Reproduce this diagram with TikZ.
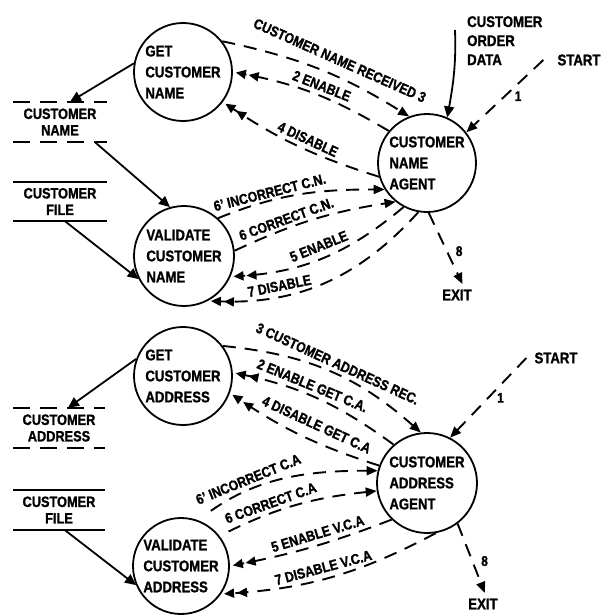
\documentclass[tikz,border=0pt]{standalone}
\usepackage{fontspec}
\setmainfont{Liberation Sans}[FakeStretch=0.85, BoldFeatures={FakeBold=1.2}]
\usetikzlibrary{arrows.meta}
\begin{document}
\begin{tikzpicture}[x=1pt,y=-1pt,
  proc/.style={circle, draw, line width=1.8pt, minimum size=98pt, inner sep=0pt, align=left,
    font=\bfseries\fontsize{15.5}{21}\selectfont},
  dsh/.style={line width=1.9pt, dash pattern=on 13pt off 9pt},
  stdash/.style={line width=1.8pt, dash pattern=on 17pt off 10pt},
  stsolid/.style={line width=1.8pt},
  sgl/.style={-{Triangle[length=11pt,width=9pt]}},
  dbl/.style={-{Triangle[length=10pt,width=9pt,sep=3pt]Triangle[length=10pt,width=9pt,sep=3pt]}},
  lab/.style={font=\bfseries\fontsize{14.5}{16}\selectfont, sloped, inner sep=1pt, anchor=south},
  num/.style={font=\bfseries\fontsize{14}{16}\selectfont, inner sep=1pt},
  store/.style={minimum width=94pt, inner sep=0pt, align=center,
    font=\bfseries\fontsize{15}{16.5}\selectfont},
  txt/.style={font=\bfseries\fontsize{15.5}{19}\selectfont, inner sep=0pt, align=left},
  solidarrow/.style={line width=1.8pt, -{Triangle[length=11pt,width=10pt]}}
]
\useasboundingbox (0,0) rectangle (616,614);

% ---------- upper diagram ----------
\node[proc] (gcn) at (183,72) {GET\\CUSTOMER\\NAME};
\node[proc, minimum size=100pt] (vcn) at (184,256) {VALIDATE\\CUSTOMER\\NAME};
\node[proc] (acn) at (427,163) {CUSTOMER\\NAME\\AGENT};

\node[store, minimum height=40pt] (scn) at (60,122) {CUSTOMER\\NAME};
\draw[stdash] (scn.north west) -- (scn.north east);
\draw[stdash] (scn.south west) -- (scn.south east);
\node[store, minimum height=39pt] (sf1) at (60,201.5) {CUSTOMER\\FILE};
\draw[stsolid] (sf1.north west) -- (sf1.north east);
\draw[stsolid] (sf1.south west) -- (sf1.south east);

\node[txt, anchor=north west] (cod) at (467,16) {CUSTOMER\\ORDER\\DATA};
\node[txt] (st1) at (579,60) {START};
\node[txt] (ex1) at (457,295) {EXIT};

\draw[solidarrow] (gcn.170) -- ([xshift=10pt]scn.north);
\draw[solidarrow] ([xshift=35pt]scn.south) -- (vcn.106);
\draw[solidarrow] ([xshift=5pt]sf1.south) -- (vcn.207);
\draw[solidarrow] ([xshift=-12pt,yshift=-14pt]cod.north west) to[out=-88,in=80] (acn.66);

\draw[dsh,sgl] ([xshift=-14pt]st1.west) -- node[num, pos=0.5, right=8pt]{1} (acn.38);
\draw[dsh,sgl,shorten >=6pt] (acn.-88) -- node[num, pos=0.5, right=7pt]{8} ([xshift=8pt]ex1.north);

\draw[dsh,sgl] (gcn.38) to[bend left=10] node[lab,pos=0.58,yshift=9pt]{CUSTOMER NAME RECEIVED 3} (acn.111);
\draw[dsh,dbl] (acn.140) to[bend right=10] node[lab,pos=0.47,yshift=3pt]{2 ENABLE} (gcn.0);
\draw[dsh,dbl] (acn.196) to[bend left=8] node[lab,pos=0.46,yshift=3pt]{4 DISABLE} (gcn.-37);
\draw[dsh,sgl] (vcn.48) to[out=22,in=180] node[lab,pos=0.32,yshift=1pt]{6' INCORRECT C.N.} (acn.212);
\draw[dsh,sgl] (vcn.6) to[bend left=8] node[lab,pos=0.34,yshift=2pt]{6 CORRECT C.N.} (acn.231);
\draw[dsh,dbl] (acn.242) to[bend left=18] node[lab,pos=0.5,yshift=5pt]{5 ENABLE} (vcn.-24);
\draw[dsh,dbl] (acn.260) to[bend left=25] node[lab,pos=0.7,yshift=3pt]{7 DISABLE} (vcn.-62);

% ---------- lower diagram ----------
\node[proc] (gca) at (183,376) {GET\\CUSTOMER\\ADDRESS};
\node[proc, minimum size=96pt] (vca) at (181,566) {VALIDATE\\CUSTOMER\\ADDRESS};
\node[proc, minimum size=100pt] (aca) at (427,483) {CUSTOMER\\ADDRESS\\AGENT};

\node[store, minimum height=40pt, minimum width=92pt] (sca) at (59,428) {CUSTOMER\\ADDRESS};
\draw[stdash] (sca.north west) -- (sca.north east);
\draw[stdash] (sca.south west) -- (sca.south east);
\node[store, minimum height=40pt, minimum width=92pt] (sf2) at (59,510) {CUSTOMER\\FILE};
\draw[stsolid] (sf2.north west) -- (sf2.north east);
\draw[stsolid] (sf2.south west) -- (sf2.south east);

\node[txt] (st2) at (556,358) {START};
\node[txt] (ex2) at (483,604) {EXIT};

\draw[solidarrow] (gca.160) -- ([xshift=9pt]sca.north);
\draw[solidarrow] ([xshift=6pt]sf2.south) -- (vca.203);

\draw[dsh,sgl] ([xshift=-8pt]st2.west) -- node[num, pos=0.5, right=7pt]{1} (aca.63);
\draw[dsh,sgl,shorten >=6pt] (aca.-53) -- node[num, pos=0.5, right=7pt]{8} ([xshift=4pt]ex2.north);

\draw[dsh,sgl] (gca.37) to[bend left=18] node[lab,pos=0.52,yshift=3pt]{3 CUSTOMER ADDRESS REC.} (aca.97);
\draw[dsh,dbl] (aca.131) to[bend right=12] node[lab,pos=0.56,yshift=3pt]{2 ENABLE GET C.A.} (gca.4);
\draw[dsh,dbl] (aca.160) to[bend left=8] node[lab,pos=0.44,yshift=9pt]{4 DISABLE GET C.A} (gca.-20);
\draw[dsh,sgl,shorten <=16pt] (vca.70) to[out=35,in=180] node[lab,pos=0.32,yshift=4pt]{6' INCORRECT C.A} (aca.166);
\draw[dsh,sgl,shorten <=10pt] (vca.38) to[bend left=10] node[lab,pos=0.35,yshift=3pt]{6 CORRECT C.A} (aca.189);
\draw[dsh,dbl] (aca.226) to[bend left=5] node[lab,pos=0.44,yshift=4pt]{5 ENABLE V.C.A} (vca.0);
\draw[dsh,dbl] (aca.-80) to[bend left=12] node[lab,pos=0.53,yshift=4pt]{7 DISABLE V.C.A} (vca.-35);
\end{tikzpicture}
\end{document}
